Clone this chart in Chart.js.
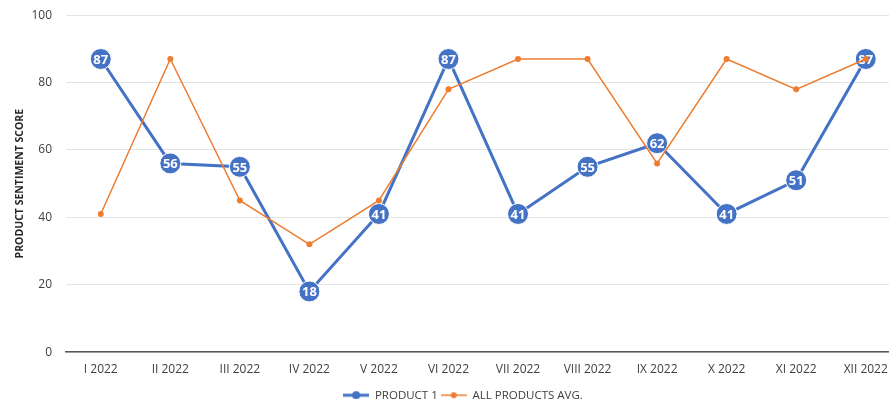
<!DOCTYPE html>
<html>
<head>
<meta charset="utf-8">
<script src="https://cdn.jsdelivr.net/npm/chart.js@4/dist/chart.umd.min.js"></script>
<style>
  html, body { margin: 0; padding: 0; background: #fff; overflow: hidden; }
  #wrap { width: 912px; height: 417px; position: relative; top: -6px; }
</style>
</head>
<body>
<div id="wrap"><canvas id="sentimentChart"></canvas></div>
<script>
const months = ['I 2022', 'II 2022', 'III 2022', 'IV 2022', 'V 2022', 'VI 2022',
    'VII 2022', 'VIII 2022', 'IX 2022', 'X 2022', 'XI 2022', 'XII 2022'];
const product1 = [87, 56, 55, 18, 41, 87, 41, 55, 62, 41, 51, 87];
const allProductsAvg = [41, 87, 45, 32, 45, 78, 87, 87, 56, 87, 78, 87];

const BLUE = '#4472C4';
const ORANGE = '#ED7D31';

// ikonka do legendy: cara s teckou
function legendIcon(color, lw, r) {
    const c = document.createElement('canvas');
    c.width = 26; c.height = 10;
    const g = c.getContext('2d');
    g.strokeStyle = color;
    g.lineWidth = lw;
    g.beginPath();
    g.moveTo(0, 5); g.lineTo(26, 5);
    g.stroke();
    g.fillStyle = color;
    g.beginPath();
    g.arc(13, 5, r, 0, Math.PI * 2);
    g.fill();
    return c;
}

// popisky hodnot v modrych koleckach
const valueLabels = {
    id: 'valueLabels',
    afterDatasetDraw(chart, args) {
        if (args.index !== 0) return;
        const ctx = chart.ctx;
        ctx.save();
        ctx.fillStyle = '#fff';
        ctx.font = 'bold 13px "Open Sans", sans-serif';
        ctx.textAlign = 'center';
        ctx.textBaseline = 'middle';
        args.meta.data.forEach((pt, i) => {
            ctx.fillText(String(product1[i]), pt.x, pt.y + 1);
        });
        ctx.restore();
    }
};

const ctx = document.getElementById('sentimentChart').getContext('2d');
new Chart(ctx, {
    type: 'line',
    data: {
        labels: months,
        datasets: [{
            label: 'PRODUCT 1',
            data: product1,
            borderColor: BLUE,
            backgroundColor: BLUE,
            borderWidth: 3,
            pointRadius: 10.5,
            pointBorderColor: '#fff',
            pointBorderWidth: 1,
            order: 1,
            tension: 0
        }, {
            label: 'ALL PRODUCTS AVG.',
            data: allProductsAvg,
            borderColor: ORANGE,
            backgroundColor: ORANGE,
            borderWidth: 1.5,
            pointRadius: 3,
            pointBorderWidth: 0,
            order: 0,
            tension: 0
        }]
    },
    options: {
        responsive: true,
        maintainAspectRatio: false,
        animation: false,
        layout: { padding: { left: 14, top: 0, bottom: 0, right: 0 } },
        scales: {
            x: {
                offset: true,
                grid: { display: false, drawTicks: false },
                border: { color: '#595959', width: 1.5 },
                ticks: {
                    color: '#404040',
                    padding: 10,
                    maxRotation: 0,
                    autoSkip: false,
                    font: { family: '"Open Sans", sans-serif', size: 12 }
                }
            },
            y: {
                min: 0,
                max: 100,
                afterFit: scale => { scale.width = 52; },
                ticks: {
                    stepSize: 20,
                    color: '#404040',
                    padding: 14,
                    font: { family: '"Open Sans", sans-serif', size: 12 }
                },
                grid: { color: '#e3e3e3', drawTicks: false },
                border: { display: false },
                title: {
                    display: true,
                    text: 'PRODUCT SENTIMENT SCORE',
                    color: '#262626',
                    font: { family: '"Open Sans", sans-serif', size: 10.5, weight: 'bold' },
                    padding: { top: 0, bottom: 0 }
                }
            }
        },
        plugins: {
            legend: {
                position: 'bottom',
                labels: {
                    color: '#404040',
                    font: { family: '"Open Sans", sans-serif', size: 11.5 },
                    usePointStyle: true,
                    pointStyleWidth: 26,
                    boxHeight: 10,
                    padding: 3,
                    generateLabels: chart => chart.data.datasets.map((ds, i) => ({
                        text: ds.label,
                        fontColor: '#404040',
                        pointStyle: i === 0 ? legendIcon(BLUE, 3, 4) : legendIcon(ORANGE, 1.5, 3),
                        datasetIndex: i,
                        lineWidth: 0
                    }))
                }
            },
            tooltip: { enabled: false }
        }
    },
    plugins: [valueLabels]
});
</script>
</body>
</html>
